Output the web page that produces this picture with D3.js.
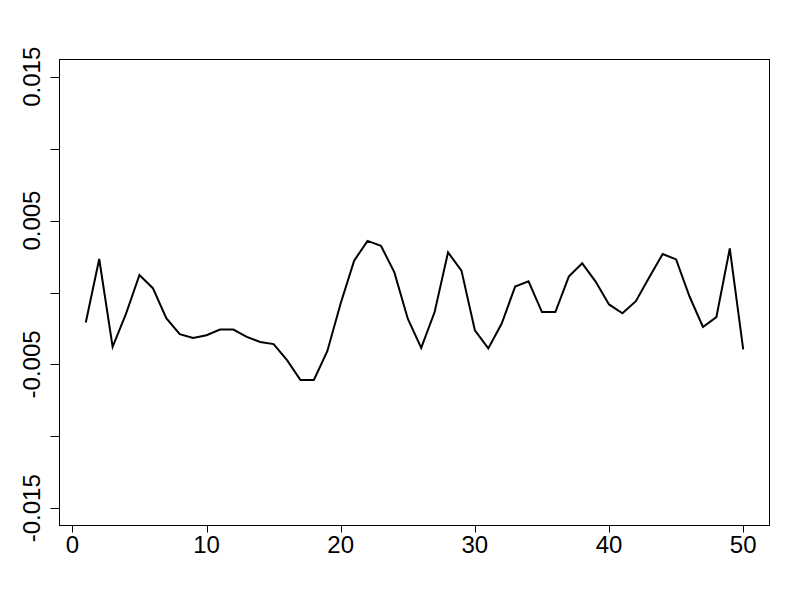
<!DOCTYPE html>
<html>
<head>
<meta charset="utf-8">
<script src="https://cdn.jsdelivr.net/npm/d3@7"></script>
<style>
  body { margin: 0; background: #fff; }
  svg { display: block; }
  text { font-family: "Liberation Sans", Arial, sans-serif; fill: #000; }
</style>
</head>
<body>
<svg id="chart" width="800" height="600"></svg>
<script>
// series
var xs = d3.range(1, 51);
var values = [
  -0.00209, 0.00233, -0.00378, -0.00147, 0.00122, 0.00030, -0.00178, -0.00290, -0.00316, -0.00297,
  -0.00258, -0.00258, -0.00309, -0.00344, -0.00359, -0.00470, -0.00608, -0.00608, -0.00408, -0.00075,
  0.00221, 0.00359, 0.00325, 0.00140, -0.00182, -0.00385, -0.00136, 0.00279, 0.00152, -0.00263,
  -0.00389, -0.00216, 0.00041, 0.00078, -0.00136, -0.00136, 0.00111, 0.00203, 0.00076, -0.00083,
  -0.00145, -0.00060, 0.00106, 0.00268, 0.00230, -0.00028, -0.00240, -0.00171, 0.00306, -0.00396
];
var xTicks = [0, 10, 20, 30, 40, 50];
var yTicks = [-0.015, -0.01, -0.005, 0, 0.005, 0.01, 0.015];
var yLabels = [-0.015, -0.005, 0.005, 0.015];

var svg = d3.select("#chart");
var plotL = 59.5, plotR = 769.5, plotT = 59.5, plotB = 525.5;

// R style: range extended by 4% on each side
var x = d3.scaleLinear().domain([1 - 0.04 * 49, 50 + 0.04 * 49]).range([plotL, plotR]);
var y = d3.scaleLinear().domain([-0.0162, 0.0162]).range([plotB, plotT]);

svg.append("rect")
  .attr("x", plotL).attr("y", plotT)
  .attr("width", plotR - plotL).attr("height", plotB - plotT)
  .attr("fill", "none").attr("stroke", "#000").attr("stroke-width", 1);

// x axis
var xa = svg.append("g");
xa.selectAll("line").data(xTicks).join("line")
  .attr("x1", d => Math.round(x(d)) + 0.5).attr("x2", d => Math.round(x(d)) + 0.5)
  .attr("y1", plotB).attr("y2", plotB + 7)
  .attr("stroke", "#000");
xa.selectAll("text").data(xTicks).join("text")
  .attr("x", d => x(d)).attr("y", 553)
  .attr("text-anchor", "middle")
  .style("font-size", "24px")
  .text(d => d);

// y axis
var ya = svg.append("g");
ya.selectAll("line").data(yTicks).join("line")
  .attr("x1", plotL - 9).attr("x2", plotL)
  .attr("y1", d => Math.round(y(d)) + 0.5).attr("y2", d => Math.round(y(d)) + 0.5)
  .attr("stroke", "#000");
ya.selectAll("text").data(yLabels).join("text")
  .attr("transform", d => "translate(40," + y(d) + ") rotate(-90)")
  .attr("text-anchor", "middle")
  .style("font-size", "24px")
  .text(d => d3.format(".3f")(d).replace("−", "-"));

// series line
var line = d3.line().x((d, i) => x(xs[i])).y(d => y(d));
svg.append("path")
  .datum(values)
  .attr("d", line)
  .attr("fill", "none")
  .attr("stroke", "#000")
  .attr("stroke-width", 2);
</script>
</body>
</html>
